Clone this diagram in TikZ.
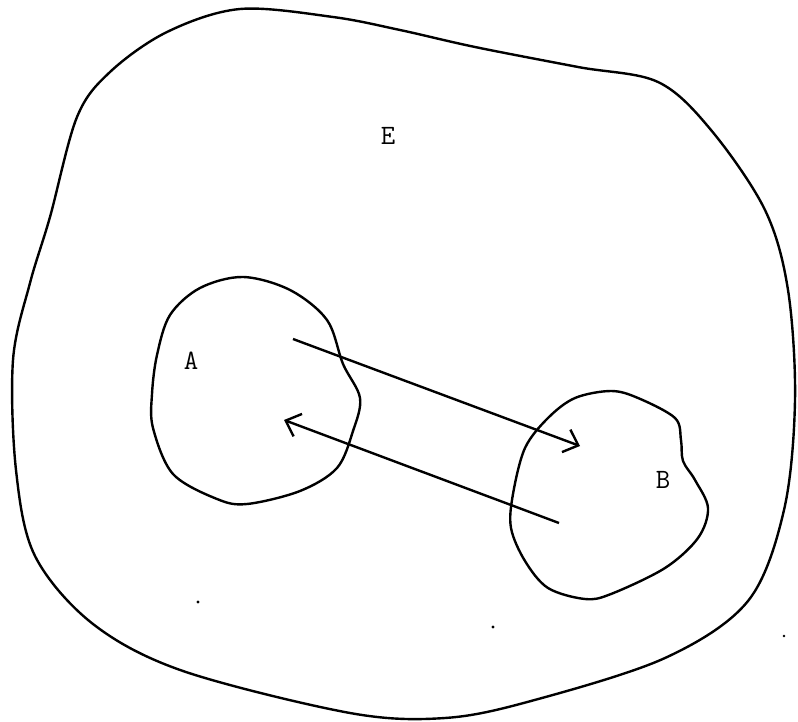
\documentclass[tikz,border=0pt]{standalone}
\usepackage{fontspec}
\usetikzlibrary{arrows.meta}
\begin{document}
\begin{tikzpicture}[x=1pt,y=-1pt,
  blob/.style={line width=2.4pt, line join=round},
  conn/.style={line width=2.4pt, -{Straight Barb[length=13pt,width=24pt,line width=2.4pt]}},
  lbl/.style={font=\fontsize{28}{30}\selectfont\ttfamily, inner sep=0pt},
  speck/.style={fill=black}]
\useasboundingbox (0,0) rectangle (798,722);
% outer region E
\draw[blob] plot[smooth cycle, tension=0.55] coordinates {
  (240,9) (333,17) (400,30) (475,47) (578,67) (658,82) (711,130) (765,210)
  (788,290) (795,400) (784,510) (748,601) (665,658) (531,701) (445,718)
  (350,713) (183,671) (93,624) (35,556) (16,470) (13,360) (30,283) (50,217)
  (77,117) (110,72) (167,32)};
% region A
\draw[blob] plot[smooth cycle, tension=0.55] coordinates {
  (243,277) (290,290) (327,320) (343,364) (360,398) (353,431) (337,468)
  (300,491) (247,504) (217,499) (173,474) (153,428) (152,394) (157,355)
  (170,315) (200,288)};
% region B
\draw[blob] plot[smooth cycle, tension=0.55] coordinates {
  (611,391) (638,398) (675,418) (681,440) (683,461) (695,480) (708,508)
  (698,538) (665,568) (611,594) (585,599) (548,588) (525,561) (511,528)
  (513,494) (525,448) (548,418) (575,398)};
% labels
\node[lbl] (E) at (388,136) {E};
\node[lbl] (A) at (191,361) {A};
\node[lbl] (B) at (663,480) {B};
% connector end points
\coordinate (a1) at (293,339);
\coordinate (b1) at (580,446);
\coordinate (b2) at (559,523);
\coordinate (a2) at (284,420);
\draw[conn] (a1) -- (b1);
\draw[conn] (b2) -- (a2);
% specks
\fill[speck] (198,602) circle (1.6);
\fill[speck] (493,627) circle (1.6);
\fill[speck] (784,636) circle (1.3);
\end{tikzpicture}
\end{document}
